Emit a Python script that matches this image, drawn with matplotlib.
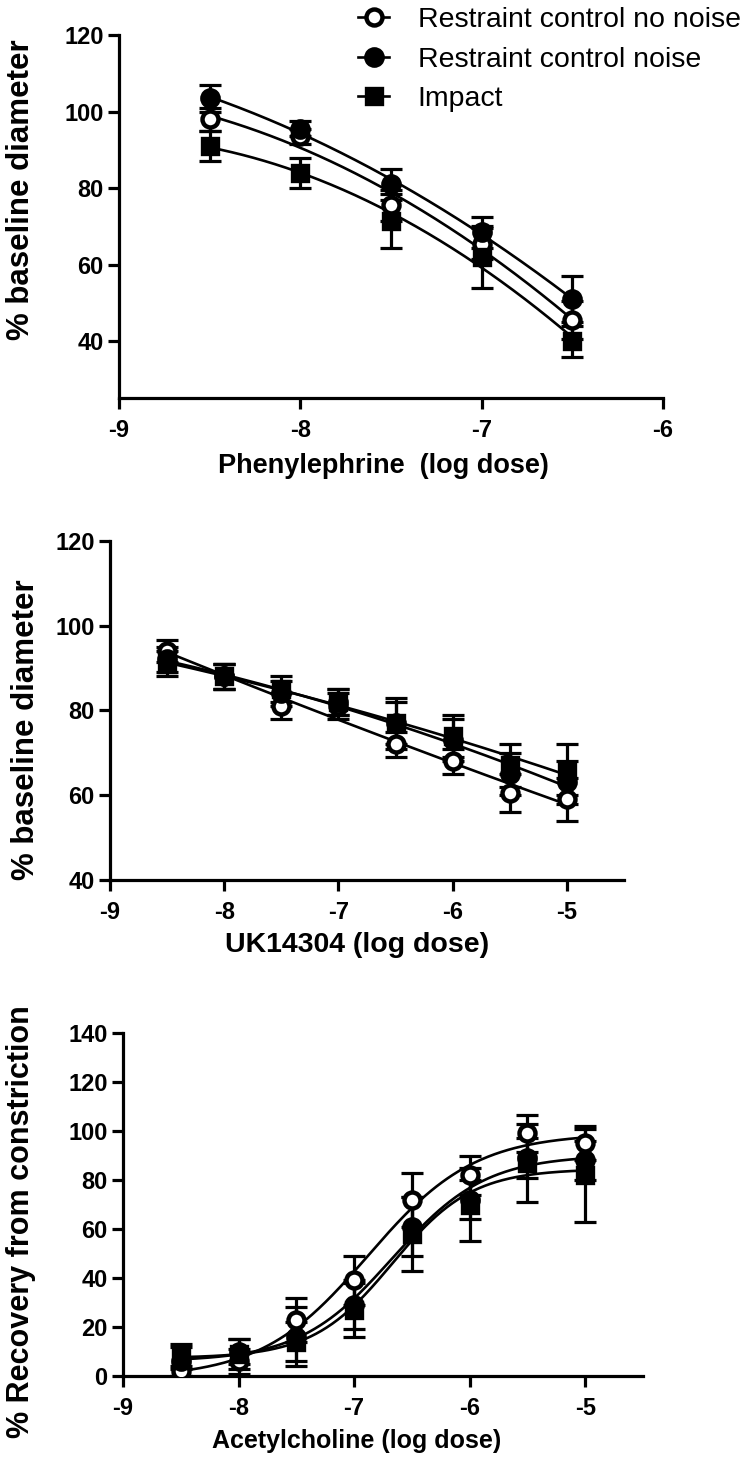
import numpy as np
import matplotlib
matplotlib.use("Agg")
import matplotlib.pyplot as plt
from matplotlib.lines import Line2D

plt.rcParams['font.family'] = ['Liberation Sans', 'DejaVu Sans']
plt.rcParams['axes.unicode_minus'] = False

# ---------------- data ----------------
series_names = ["Restraint control no noise", "Restraint control noise", "Impact"]

# Panel 1: Phenylephrine
pe_x = [-8.5, -8.0, -7.5, -7.0, -6.5]
pe_nonoise = [98.0, 93.5, 75.5, 65.5, 45.5]
pe_nonoise_err = [3.0, 2.0, 4.0, 4.0, 5.0]
pe_noise = [103.5, 95.5, 81.0, 68.5, 51.0]
pe_noise_err = [3.5, 2.0, 4.0, 4.0, 6.0]
pe_impact = [91.0, 84.0, 71.5, 62.0, 40.0]
pe_impact_err = [4.0, 4.0, 7.0, 8.0, 4.0]

# Panel 2: UK14304
uk_x = [-8.5, -8.0, -7.5, -7.0, -6.5, -6.0, -5.5, -5.0]
uk_nonoise = [94.0, 88.0, 81.0, 81.0, 72.0, 68.0, 60.5, 59.0]
uk_nonoise_err = [2.5, 3.0, 3.0, 3.0, 3.0, 3.0, 4.5, 5.0]
uk_noise = [92.0, 88.0, 84.0, 82.0, 77.0, 73.0, 65.0, 63.0]
uk_noise_err = [3.0, 3.0, 3.0, 3.0, 5.0, 5.0, 5.0, 5.0]
uk_impact = [91.0, 88.0, 85.0, 82.0, 77.0, 74.0, 67.0, 66.0]
uk_impact_err = [3.0, 3.0, 3.0, 3.0, 6.0, 5.0, 5.0, 6.0]

# Panel 3: Acetylcholine
ach_x = [-8.5, -8.0, -7.5, -7.0, -6.5, -6.0, -5.5, -5.0]
ach_nonoise = [2.0, 6.0, 23.0, 39.0, 72.0, 82.0, 99.0, 95.0]
ach_nonoise_err = [2.0, 5.0, 9.0, 10.0, 11.0, 8.0, 7.5, 7.0]
ach_noise = [6.0, 10.0, 16.0, 29.0, 61.0, 72.0, 89.0, 88.0]
ach_noise_err = [6.0, 5.0, 12.0, 10.0, 12.0, 8.0, 8.0, 8.0]
ach_impact = [8.0, 9.0, 14.0, 27.0, 58.0, 70.0, 87.0, 82.0]
ach_impact_err = [5.0, 6.0, 8.0, 11.0, 15.0, 15.0, 16.0, 19.0]

W, H = 756, 1466
fig = plt.figure(figsize=(W / 100, H / 100), dpi=100)


def add_axes_px(x0, x1, ytop, ybot):
    return fig.add_axes([x0 / W, 1 - ybot / H, (x1 - x0) / W, (ybot - ytop) / H])


def fit_4pl(x, y):
    x = np.asarray(x, float)
    y = np.asarray(y, float)
    cs = np.linspace(-9.0, -5.0, 401)
    hs = np.linspace(0.3, 3.0, 136)
    C, Hh = np.meshgrid(cs, hs)
    C = C.ravel()
    Hh = Hh.ravel()
    f = 1.0 / (1.0 + 10 ** ((C[:, None] - x[None, :]) * Hh[:, None]))
    a = 1 - f
    b = f
    saa = (a * a).sum(1)
    sbb = (b * b).sum(1)
    sab = (a * b).sum(1)
    say = (a * y).sum(1)
    sby = (b * y).sum(1)
    det = saa * sbb - sab ** 2
    det[det == 0] = 1e-12
    B = (say * sbb - sby * sab) / det
    T = (saa * sby - sab * say) / det
    res = ((B[:, None] * a + T[:, None] * b - y) ** 2).sum(1)
    i = np.nanargmin(res)
    return B[i], T[i], C[i], Hh[i]


def curve_4pl(p, xx):
    B, T, c, h = p
    return B + (T - B) / (1 + 10 ** ((c - xx) * h))


LW = 1.9
MS = 12.5
styles = [dict(marker='o', mfc='white', mec='black', mew=3.2, ms=MS - 1),
          dict(marker='o', mfc='black', mec='black', mew=2.4, ms=MS),
          dict(marker='s', mfc='black', mec='black', mew=2.4, ms=MS - 1)]


def style_axes(ax):
    for s in ['top', 'right']:
        ax.spines[s].set_visible(False)
    for s in ['left', 'bottom']:
        ax.spines[s].set_linewidth(2.3)
    ax.tick_params(axis='both', width=2.3, length=8, direction='out', labelsize=17)
    ax.tick_params(axis='y', pad=3)
    ax.tick_params(axis='x', pad=7)
    for lab in ax.get_xticklabels() + ax.get_yticklabels():
        lab.set_fontweight('bold')


def draw(ax, x, ys, errs, fit):
    xx_fit = np.linspace(min(x), max(x), 300)
    for y, e, st in zip(ys, errs, styles):
        if fit == 'poly':
            cf = np.polyfit(x, y, 2)
            yy = np.polyval(cf, xx_fit)
        else:
            yy = curve_4pl(fit_4pl(x, y), xx_fit)
        ax.plot(xx_fit, yy, color='black', lw=LW, zorder=2, solid_capstyle='butt')
        ax.errorbar(x, y, yerr=e, fmt='none', ecolor='black', elinewidth=2.3,
                    capsize=8, capthick=2.3, zorder=3)
        ax.plot(x, y, linestyle='none', zorder=4, **st)


# ---------------- Panel 1 ----------------
ax1 = add_axes_px(119, 663, 35, 398)
draw(ax1, pe_x, [pe_nonoise, pe_noise, pe_impact],
     [pe_nonoise_err, pe_noise_err, pe_impact_err], 'poly')
ax1.set_xlim(-9, -6)
ax1.set_ylim(25.2, 120)
ax1.set_xticks([-9, -8, -7, -6])
ax1.set_yticks([40, 60, 80, 100, 120])
style_axes(ax1)
ax1.set_xlabel("Phenylephrine  (log dose)", fontsize=19.5, fontweight='bold')
ax1.set_ylabel("% baseline diameter", fontsize=22.5, fontweight='bold')
ax1.xaxis.set_label_coords((383 - 119) / 544, -(453 - 398) / 363)
ax1.yaxis.set_label_coords(-(119 - 36) / 544, (398 - 190) / 363)

# ---------------- Panel 2 ----------------
ax2 = add_axes_px(110, 624, 540.7, 880)
draw(ax2, uk_x, [uk_nonoise, uk_noise, uk_impact],
     [uk_nonoise_err, uk_noise_err, uk_impact_err], 'poly')
ax2.set_xlim(-9, -4.5)
ax2.set_ylim(40, 120)
ax2.set_xticks([-9, -8, -7, -6, -5])
ax2.set_yticks([40, 60, 80, 100, 120])
style_axes(ax2)
ax2.set_xlabel("UK14304 (log dose)", fontsize=20.5, fontweight='bold')
ax2.set_ylabel("% baseline diameter", fontsize=22.5, fontweight='bold')
ax2.xaxis.set_label_coords((357 - 110) / 514, -(932 - 880) / 339.3)
ax2.yaxis.set_label_coords(-(110 - 41) / 514, (880 - 730) / 339.3)

# ---------------- Panel 3 ----------------
ax3 = add_axes_px(123, 643, 1033, 1376)
draw(ax3, ach_x, [ach_nonoise, ach_noise, ach_impact],
     [ach_nonoise_err, ach_noise_err, ach_impact_err], '4pl')
ax3.set_xlim(-9, -4.5)
ax3.set_ylim(0, 140)
ax3.set_xticks([-9, -8, -7, -6, -5])
ax3.set_yticks([0, 20, 40, 60, 80, 100, 120, 140])
style_axes(ax3)
ax3.set_xlabel("Acetylcholine (log dose)", fontsize=18, fontweight='bold')
ax3.set_ylabel("% Recovery from constriction", fontsize=22, fontweight='bold')
ax3.xaxis.set_label_coords((357 - 123) / 520, -(1429 - 1376) / 343)
ax3.yaxis.set_label_coords(-(123 - 36) / 520, (1376 - 1222) / 343)

# ---------------- Legend ----------------
handles = [Line2D([0], [0], color='black', lw=LW, **st) for st in styles]
fig.legend(handles, series_names, loc='upper left',
           bbox_to_anchor=(358 / W, 1 - 7 / H), frameon=False,
           prop={'family': 'Liberation Sans', 'size': 20.5},
           handlelength=1.1, handletextpad=1.0, labelspacing=0.48,
           borderpad=0.0, borderaxespad=0.0)

fig.savefig("out.png", dpi=100)
